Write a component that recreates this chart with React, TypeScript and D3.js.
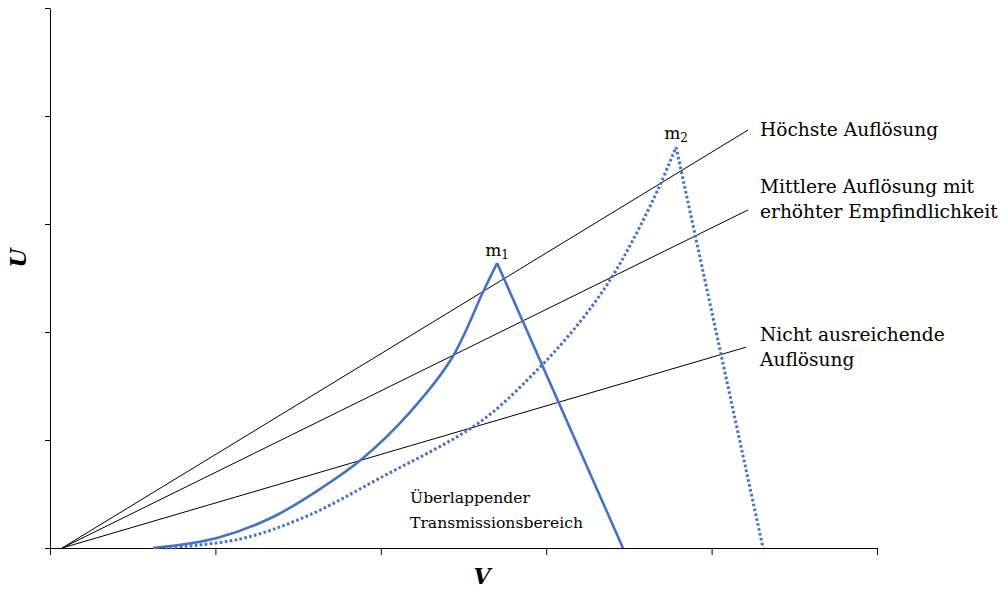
import React, { useEffect, useRef } from "react";
import * as d3 from "d3";

// axis domain (no tick labels shown)
const xTicks = [0, 1, 2, 3, 4, 5];
const yTicks = [0, 1, 2, 3, 4, 5];

// resolution lines, from a common origin
const origin = [0.073, 0];
const resolutionLines = [
  { name: "hoechste", end: [4.22, 3.87] },
  { name: "mittlere", end: [4.22, 3.13] },
  { name: "nicht", end: [4.21, 1.86] },
];

// peak m1 (solid): rising flank, peak, then foot on the right
const m1X = [0.623, 1.01, 1.348, 1.651, 1.886, 2.177, 2.43, 2.618, 2.703, 3.464];
const m1Y = [0, 0.093, 0.287, 0.565, 0.824, 1.259, 1.759, 2.37, 2.639, 0];

// peak m2 (dotted)
const m2X = [0.695, 1.149, 1.554, 1.995, 2.6, 2.963, 3.204, 3.386, 3.525, 3.688, 3.785, 4.311];
const m2Y = [0, 0.083, 0.296, 0.648, 1.167, 1.676, 2.093, 2.481, 2.852, 3.361, 3.713, 0];

const width = 1002;
const height = 591;
const font = "'DejaVu Serif', serif";

export default function App() {
  const xAxisRef = useRef<SVGGElement>(null);
  const yAxisRef = useRef<SVGGElement>(null);

  const x = d3.scaleLinear().domain([0, 5]).range([50, 877]);
  const y = d3.scaleLinear().domain([0, 5]).range([548, 8]);

  useEffect(() => {
    const xa = d3.axisBottom(x).tickValues(xTicks).tickSize(7).tickSizeOuter(0).tickFormat(() => "");
    const ya = d3.axisLeft(y).tickValues(yTicks).tickSize(5).tickSizeOuter(0).tickFormat(() => "");
    d3.select(xAxisRef.current).call(xa as any).selectAll("line,path").attr("stroke", "#000");
    d3.select(yAxisRef.current).call(ya as any).selectAll("line,path").attr("stroke", "#000");
    d3.select(xAxisRef.current).select(".domain").attr("d", `M${x(0) - 3},0.5H${x(5)}`);
  }, []);

  const curve = d3
    .line<[number, number]>()
    .x((d) => x(d[0]))
    .y((d) => y(d[1]))
    .curve(d3.curveCatmullRom.alpha(0.5));

  const straight = d3
    .line<[number, number]>()
    .x((d) => x(d[0]))
    .y((d) => y(d[1]));

  const m1Pts = m1X.map((v, i) => [v, m1Y[i]] as [number, number]);
  const m2Pts = m2X.map((v, i) => [v, m2Y[i]] as [number, number]);
  const m1Rise = curve(m1Pts.slice(0, m1Pts.length - 1));
  const m1Fall = straight(m1Pts.slice(m1Pts.length - 2));
  const m2Rise = curve(m2Pts.slice(0, m2Pts.length - 1));
  const m2Fall = straight(m2Pts.slice(m2Pts.length - 2));

  const m1Peak = m1Pts[m1Pts.length - 2];
  const m2Peak = m2Pts[m2Pts.length - 2];

  return (
    <svg width={width} height={height} style={{ position: "absolute", left: 0, top: 0, background: "#fff" }}>
      <g ref={xAxisRef} transform={`translate(0,${y(0)})`} />
      <g ref={yAxisRef} transform={`translate(${x(0)},0)`} />

      {resolutionLines.map((l) => (
        <line
          key={l.name}
          x1={x(origin[0])}
          y1={y(origin[1])}
          x2={x(l.end[0])}
          y2={y(l.end[1])}
          stroke="#000"
          strokeWidth={1}
        />
      ))}

      <path d={m1Rise || ""} fill="none" stroke="#4472C4" strokeWidth={2.6} />
      <path d={m1Fall || ""} fill="none" stroke="#4472C4" strokeWidth={2.6} />
      <path d={m2Rise || ""} fill="none" stroke="#4472C4" strokeWidth={3} strokeDasharray="2.6 2.4" />
      <path d={m2Fall || ""} fill="none" stroke="#4472C4" strokeWidth={3} strokeDasharray="2.6 2.4" />

      <g fontFamily={font} fill="#000">
        <text x={x(m1Peak[0])} y={y(m1Peak[1]) - 7} textAnchor="middle" fontSize={17}>
          m<tspan fontSize={12} dy={3}>1</tspan>
        </text>
        <text x={x(m2Peak[0])} y={y(m2Peak[1]) - 8} textAnchor="middle" fontSize={17}>
          m<tspan fontSize={12} dy={3}>2</tspan>
        </text>

        <text x={760} y={136} fontSize={18.6}>Höchste Auflösung</text>
        <text x={760} y={193} fontSize={18.6}>Mittlere Auflösung mit</text>
        <text x={760} y={218} fontSize={18.6}>erhöhter Empfindlichkeit</text>
        <text x={760} y={341} fontSize={18.6}>Nicht ausreichende</text>
        <text x={760} y={366} fontSize={18.6}>Auflösung</text>

        <text x={410} y={503} fontSize={15.6}>Überlappender</text>
        <text x={410} y={528} fontSize={15.6}>Transmissionsbereich</text>

        <text x={482} y={584} textAnchor="middle" fontSize={22} fontStyle="italic" fontWeight="bold">V</text>
        <text
          transform="translate(26,258) rotate(-90)"
          textAnchor="middle"
          fontSize={22}
          fontStyle="italic"
          fontWeight="bold"
        >
          U
        </text>
      </g>
    </svg>
  );
}
